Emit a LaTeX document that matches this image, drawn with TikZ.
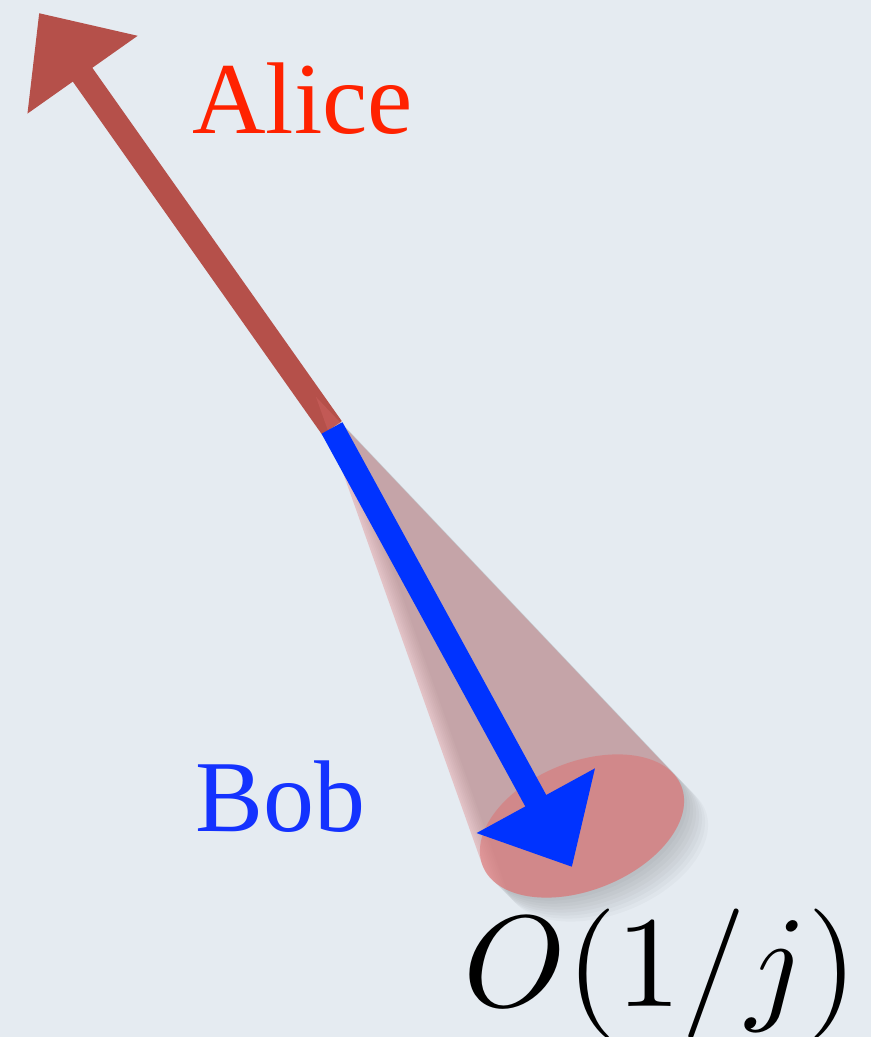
\documentclass[tikz,border=0pt]{standalone}
\usepackage{fontspec}
\newfontfamily\namefont{Liberation Serif}
\usetikzlibrary{arrows.meta}
\definecolor{paper}{RGB}{229,235,241}
\definecolor{alicered}{RGB}{181,80,74}
\definecolor{alicetext}{RGB}{255,34,0}
\definecolor{bobblue}{RGB}{0,51,255}
\definecolor{bobtext}{RGB}{20,50,255}
\definecolor{conered}{RGB}{222,110,110}
\begin{document}
\begin{tikzpicture}[x=0.02cm,y=0.02cm,
  spinarrow/.style={line width=13.6pt,-{Triangle[length=43pt,width=74pt]}},
  namelabel/.style={inner sep=0pt,anchor=base west,font=\namefont\fontsize{58}{60}\selectfont},
  cone/.style={shift={(582,211)},rotate=22}]
\fill[paper] (0,0) rectangle (871,1037);
\clip (0,0) rectangle (871,1037);
\coordinate (origin) at (332,609);
\coordinate (alicetip) at (39,1024);
\coordinate (bobtip) at (572,170);
\foreach \s in {3,6,...,24}
  \fill[black,opacity=0.025,shift={(\s,-\s)},cone]
    (-85.9,497.4) -- (178.55:107 and 64)
    arc[start angle=178.55,end angle=373.25,x radius=107,y radius=64] -- cycle;
\draw[spinarrow,alicered] (origin) -- (alicetip);
\fill[conered,opacity=0.32,cone]
  (-85.9,497.4) -- (178.55:107 and 64)
  arc[start angle=178.55,end angle=373.25,x radius=107,y radius=64] -- cycle;
\fill[conered,opacity=0.5,cone] (0,0) ellipse[x radius=107,y radius=64];
\draw[spinarrow,bobblue] (origin) -- (bobtip);
\node[namelabel,text=alicetext] (alice) at (192,903) {Alice};
\node[namelabel,text=bobtext] (bob) at (195,205) {Bob};
\node[inner sep=0pt,anchor=base west,scale=7.4] (order) at (461,30) {$O(1/j)$};
\end{tikzpicture}
\end{document}
